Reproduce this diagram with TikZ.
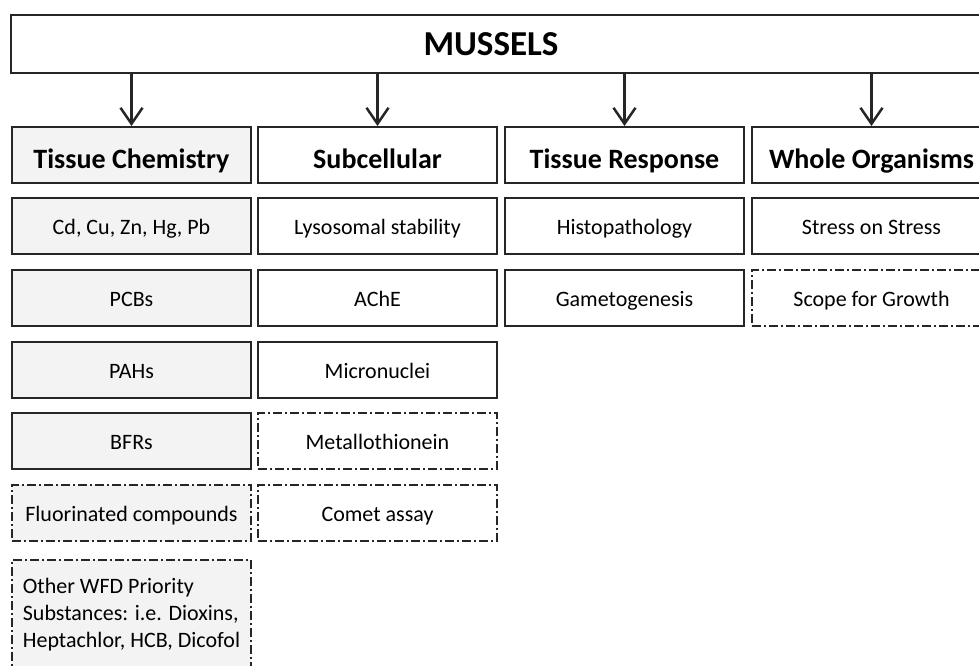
\documentclass[tikz,border=0pt]{standalone}
\usepackage{fontspec}
\setmainfont{Carlito}
\usepackage{xcolor}
\usetikzlibrary{arrows.meta}
\usetikzlibrary{positioning}
\definecolor{boxgray}{HTML}{F3F3F3}
\definecolor{linegray}{HTML}{262626}

\begin{document}
\begin{tikzpicture}[x=1pt,y=-1pt,
  frame/.style={draw=linegray,line width=2pt,minimum width=239pt,minimum height=56pt,inner sep=2pt,font=\fontsize{22}{27}\selectfont},
  box/.style={frame,text height=20pt,text depth=3pt},
  head/.style={frame,text height=28pt,text depth=2pt,font=\fontsize{28}{32}\selectfont\bfseries},
  chem/.style={fill=boxgray},
  maybe/.style={dash pattern=on 9pt off 3pt on 2pt off 3pt},
  down/.style={-{Straight Barb[length=16pt,width=22pt,line width=2.5pt]},line width=2.5pt,draw=linegray}]
\useasboundingbox (0,0) rectangle (979,665);
\clip (0,0) rectangle (979,665);
% top bar
\node[draw=linegray,line width=2pt,minimum width=985pt,minimum height=58pt] (top) at (503,44) {};
\node[font=\fontsize{35}{40}\selectfont\bfseries] (title) at (491,44) {MUSSELS};
% column heads
\node[head,chem] (tc) at (131.5,155) {Tissue Chemistry};
\node[head] (sub) at (377.5,155) {Subcellular};
\node[head] (tr) at (624.5,155) {Tissue Response};
\node[head] (wo) at (871.5,155) {Whole Organisms};
\draw[down] (top.south -| tc.north) -- (tc.north);
\draw[down] (top.south -| sub.north) -- (sub.north);
\draw[down] (top.south -| tr.north) -- (tr.north);
\draw[down] (top.south -| wo.north) -- (wo.north);
% tissue chemistry
\node[box,chem] (metals) at (131.5,226) {Cd, Cu, Zn, Hg, Pb};
\node[box,chem] (pcb) at (131.5,298) {PCBs};
\node[box,chem] (pah) at (131.5,369.5) {PAHs};
\node[box,chem] (bfr) at (131.5,441) {BFRs};
\node[box,chem,maybe] (fluor) at (131.5,513) {Fluorinated compounds};
\node[frame,chem,maybe,minimum height=110pt,align=left] (other) at (131.5,615)
  {Other WFD Priority\\Substances: i.e. Dioxins,\\Heptachlor, HCB, Dicofol};
% subcellular
\node[box] (lyso) at (377.5,226) {Lysosomal stability};
\node[box] (ache) at (377.5,298) {AChE};
\node[box] (micro) at (377.5,369.5) {Micronuclei};
\node[box,maybe] (mt) at (377.5,441) {Metallothionein};
\node[box,maybe] (comet) at (377.5,513) {Comet assay};
% tissue response
\node[box] (histo) at (624.5,226) {Histopathology};
\node[box] (gameto) at (624.5,298) {Gametogenesis};
% whole organisms
\node[box] (sos) at (871.5,226) {Stress on Stress};
\node[box,maybe] (sfg) at (871.5,298) {Scope for Growth};
\end{tikzpicture}
\end{document}
